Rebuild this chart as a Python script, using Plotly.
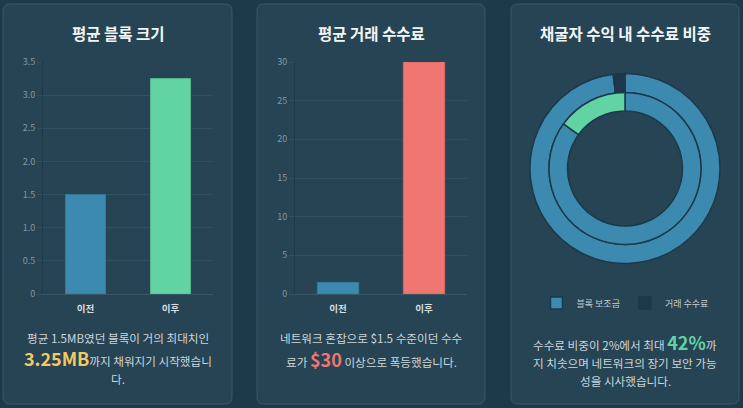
import plotly.graph_objects as go

W, H = 743, 408
FONT = "Noto Sans CJK KR"

# ---- data ----
categories = ["이전", "이후"]
block_size = [1.5, 3.25]
tx_fee = [1.5, 30]
size_ticks = [0, 0.5, 1.0, 1.5, 2.0, 2.5, 3.0, 3.5]
size_tick_text = ["0", "0.5", "1.0", "1.5", "2.0", "2.5", "3.0", "3.5"]
fee_ticks = [0, 5, 10, 15, 20, 25, 30]
fee_tick_text = ["0", "5", "10", "15", "20", "25", "30"]
share_labels = ["블록 보조금", "거래 수수료"]
share_before = [98, 2]
share_after = [85, 15]

PAGE_BG = "#1d3a4a"
CARD_BG = "#264453"
CARD_BORDER = "#36586a"
GRID = "#2f5162"
TICK = "#8797a1"
TEXT = "#cdd6db"
BLUE = "#3d8ab1"
GREEN = "#62d3a3"
RED = "#f07672"
DARK = "#1c3949"
YELLOW = "#f6c860"


def px(x):
    return x / W


def py(y):
    return 1 - y / H


def card_path(x0, y0, x1, y1, r):
    X0, X1 = px(x0), px(x1)
    Y0, Y1 = py(y0), py(y1)
    rx, ry = r / W, r / H
    return (f"M{X0+rx},{Y0} L{X1-rx},{Y0} Q{X1},{Y0} {X1},{Y0-ry} "
            f"L{X1},{Y1+ry} Q{X1},{Y1} {X1-rx},{Y1} L{X0+rx},{Y1} "
            f"Q{X0},{Y1} {X0},{Y1+ry} L{X0},{Y0-ry} Q{X0},{Y0} {X0+rx},{Y0} Z")


fig = go.Figure()

fig.add_trace(go.Bar(x=categories, y=block_size, marker=dict(color=[BLUE, GREEN],
              line=dict(color=["#357a9c", "#55b98f"], width=1)), width=0.47,
              xaxis="x", yaxis="y", showlegend=False, hoverinfo="skip"))
fig.add_trace(go.Bar(x=categories, y=tx_fee, marker=dict(color=[BLUE, RED],
              line=dict(color=["#357a9c", "#d86864"], width=1)), width=0.48,
              xaxis="x2", yaxis="y2", showlegend=False, hoverinfo="skip"))

cx, cy, r_out, r_mid, r_in = 625, 168.5, 95, 76, 57.5
fig.add_trace(go.Pie(labels=share_labels, values=share_before, sort=False, direction="clockwise",
                     rotation=0, hole=r_mid / r_out, textinfo="none", hoverinfo="skip",
                     marker=dict(colors=[BLUE, DARK], line=dict(color=DARK, width=1.5)),
                     domain=dict(x=[px(cx - r_out), px(cx + r_out)], y=[py(cy + r_out), py(cy - r_out)])))
fig.add_trace(go.Pie(labels=share_labels, values=share_after, sort=False, direction="clockwise",
                     rotation=0, hole=r_in / r_mid, textinfo="none", hoverinfo="skip", showlegend=False,
                     marker=dict(colors=[BLUE, GREEN], line=dict(color=DARK, width=1.5)),
                     domain=dict(x=[px(cx - r_mid), px(cx + r_mid)], y=[py(cy + r_mid), py(cy - r_mid)])))

axis_common = dict(showgrid=False, zeroline=False, fixedrange=True)
yaxis_common = dict(showgrid=True, gridcolor=GRID, gridwidth=1, zeroline=False, showline=True,
                    linecolor="#1f3b49", linewidth=1, ticks="outside", ticklen=5, tickcolor=GRID,
                    tickfont=dict(family=FONT, size=9, color=TICK), fixedrange=True)
xaxis_common = dict(showline=True, linecolor="#3a5767", linewidth=1, ticks="outside", ticklen=6,
                    tickcolor="rgba(0,0,0,0)",
                    tickfont=dict(family=FONT, size=9.5, color="#d6dee2", weight="bold"), **axis_common)

shapes = []
for (x0, x1) in [(3, 232), (257, 485), (511, 739)]:
    shapes.append(dict(type="path", path=card_path(x0, 4, x1, 404, 7), xref="paper", yref="paper",
                       fillcolor=CARD_BG, line=dict(color=CARD_BORDER, width=1), layer="below"))

annotations = []


def add_text(x, y, text, size=11.6, color=TEXT):
    annotations.append(dict(x=px(x), y=py(y), xref="paper", yref="paper", text=text, showarrow=False,
                            xanchor="center", yanchor="middle",
                            font=dict(family=FONT, size=size, color=color)))


add_text(118, 33, "<b>평균 블록 크기</b>", size=15.5, color="#f2f5f6")
add_text(371, 33, "<b>평균 거래 수수료</b>", size=15.5, color="#f2f5f6")
add_text(625, 33, "<b>채굴자 수익 내 수수료 비중</b>", size=15.5, color="#f2f5f6")

add_text(118, 338, "평균 1.5MB였던 블록이 거의 최대치인")
add_text(118, 358, f"<span style='font-size:18px;color:{YELLOW}'><b>3.25MB</b></span>까지 채워지기 시작했습니")
add_text(118, 379, "다.")

add_text(371, 338, "네트워크 혼잡으로 $1.5 수준이던 수수")
add_text(371, 359, f"료가 <span style='font-size:18px;color:{RED}'><b>$30</b></span> 이상으로 폭등했습니다.")

add_text(625, 342, f"수수료 비중이 2%에서 최대 <span style='font-size:18px;color:{GREEN}'><b>42%</b></span>까")
add_text(625, 363, "지 치솟으며 네트워크의 장기 보안 가능")
add_text(625, 381, "성을 시사했습니다.")

fig.update_layout(
    width=W, height=H, margin=dict(l=0, r=0, t=0, b=0, pad=0, autoexpand=False),
    paper_bgcolor=PAGE_BG, plot_bgcolor="rgba(0,0,0,0)",
    font=dict(family=FONT, color=TEXT),
    xaxis=dict(domain=[px(43), px(213)], anchor="y", **xaxis_common),
    yaxis=dict(domain=[py(294), py(62)], anchor="x", range=[0, 3.5], tickvals=size_ticks,
               ticktext=size_tick_text, **yaxis_common),
    xaxis2=dict(domain=[px(295), px(467)], anchor="y2", **xaxis_common),
    yaxis2=dict(domain=[py(294), py(62)], anchor="x2", range=[0, 30], tickvals=fee_ticks,
                ticktext=fee_tick_text, **yaxis_common),
    shapes=shapes, annotations=annotations,
    showlegend=True,
    legend=dict(orientation="h", x=px(625), y=py(303), xanchor="center", yanchor="middle",
                font=dict(family=FONT, size=9, color="#c3cdd2"), bgcolor="rgba(0,0,0,0)",
                itemwidth=30, tracegroupgap=0),
)

fig.write_html("out.html")
